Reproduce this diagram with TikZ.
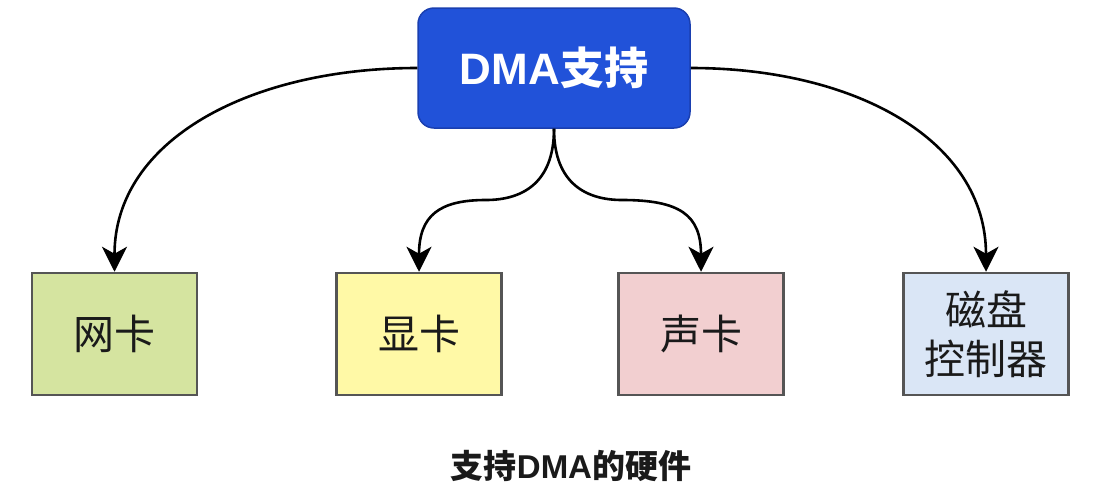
\documentclass[tikz,border=0pt]{standalone}
\usepackage{fontspec}
\setmainfont{Noto Sans CJK SC}
\newfontfamily\latinbold{Liberation Sans}[BoldFont={Liberation Sans Bold}]
\usetikzlibrary{arrows.meta}
\definecolor{topfill}{HTML}{2152D9}
\definecolor{topdraw}{HTML}{1A3FB0}
\definecolor{greenfill}{HTML}{D5E4A0}
\definecolor{yellowfill}{HTML}{FFF9A6}
\definecolor{pinkfill}{HTML}{F2CFD0}
\definecolor{bluefill}{HTML}{DAE6F6}
\definecolor{boxdraw}{HTML}{555555}
\definecolor{txt}{HTML}{1A1A1A}
\tikzset{
  topbox/.style={draw=topdraw, line width=1.5pt, fill=topfill, rounded corners=16pt,
    minimum width=272pt, minimum height=120pt, inner sep=0pt, text=white,
    font=\fontsize{44}{50}\selectfont\bfseries},
  hwbox/.style={draw=boxdraw, line width=2.5pt, minimum width=165pt, minimum height=122pt,
    inner sep=0pt, text=txt, align=center, font=\fontsize{41}{49}\selectfont},
  conn/.style={line width=2.6pt, -{Stealth[length=25pt, width=25pt, inset=7pt]}},
  caption/.style={text=txt, font=\fontsize{33}{38}\selectfont\bfseries}
}
\begin{document}
\begin{tikzpicture}[x=1pt, y=-1pt]
\useasboundingbox (0,0) rectangle (1098,499);
\node[topbox] (top) at (554,68) {{\latinbold DMA}支持};
\node[hwbox, fill=greenfill] (nic) at (114.5,334) {网卡};
\node[hwbox, fill=yellowfill] (gpu) at (419,334) {显卡};
\node[hwbox, fill=pinkfill] (snd) at (701,334) {声卡};
\node[hwbox, fill=bluefill] (disk) at (986,334) {磁盘\\控制器};
\node[caption] (cap) at (571,466) {支持{\latinbold DMA}的硬件};
\draw[conn] (top.west) .. controls (250,68) and (114.5,140) .. (nic.north);
\draw[conn] (top.east) .. controls (855,68) and (986,140) .. (disk.north);
\draw[conn] (top.south) .. controls (554,185) and (520,200) .. (486,200)
  .. controls (440,200) and (419,215) .. (gpu.north);
\draw[conn] (top.south) .. controls (554,185) and (588,200) .. (622,200)
  .. controls (680,200) and (701,215) .. (snd.north);
\end{tikzpicture}
\end{document}
